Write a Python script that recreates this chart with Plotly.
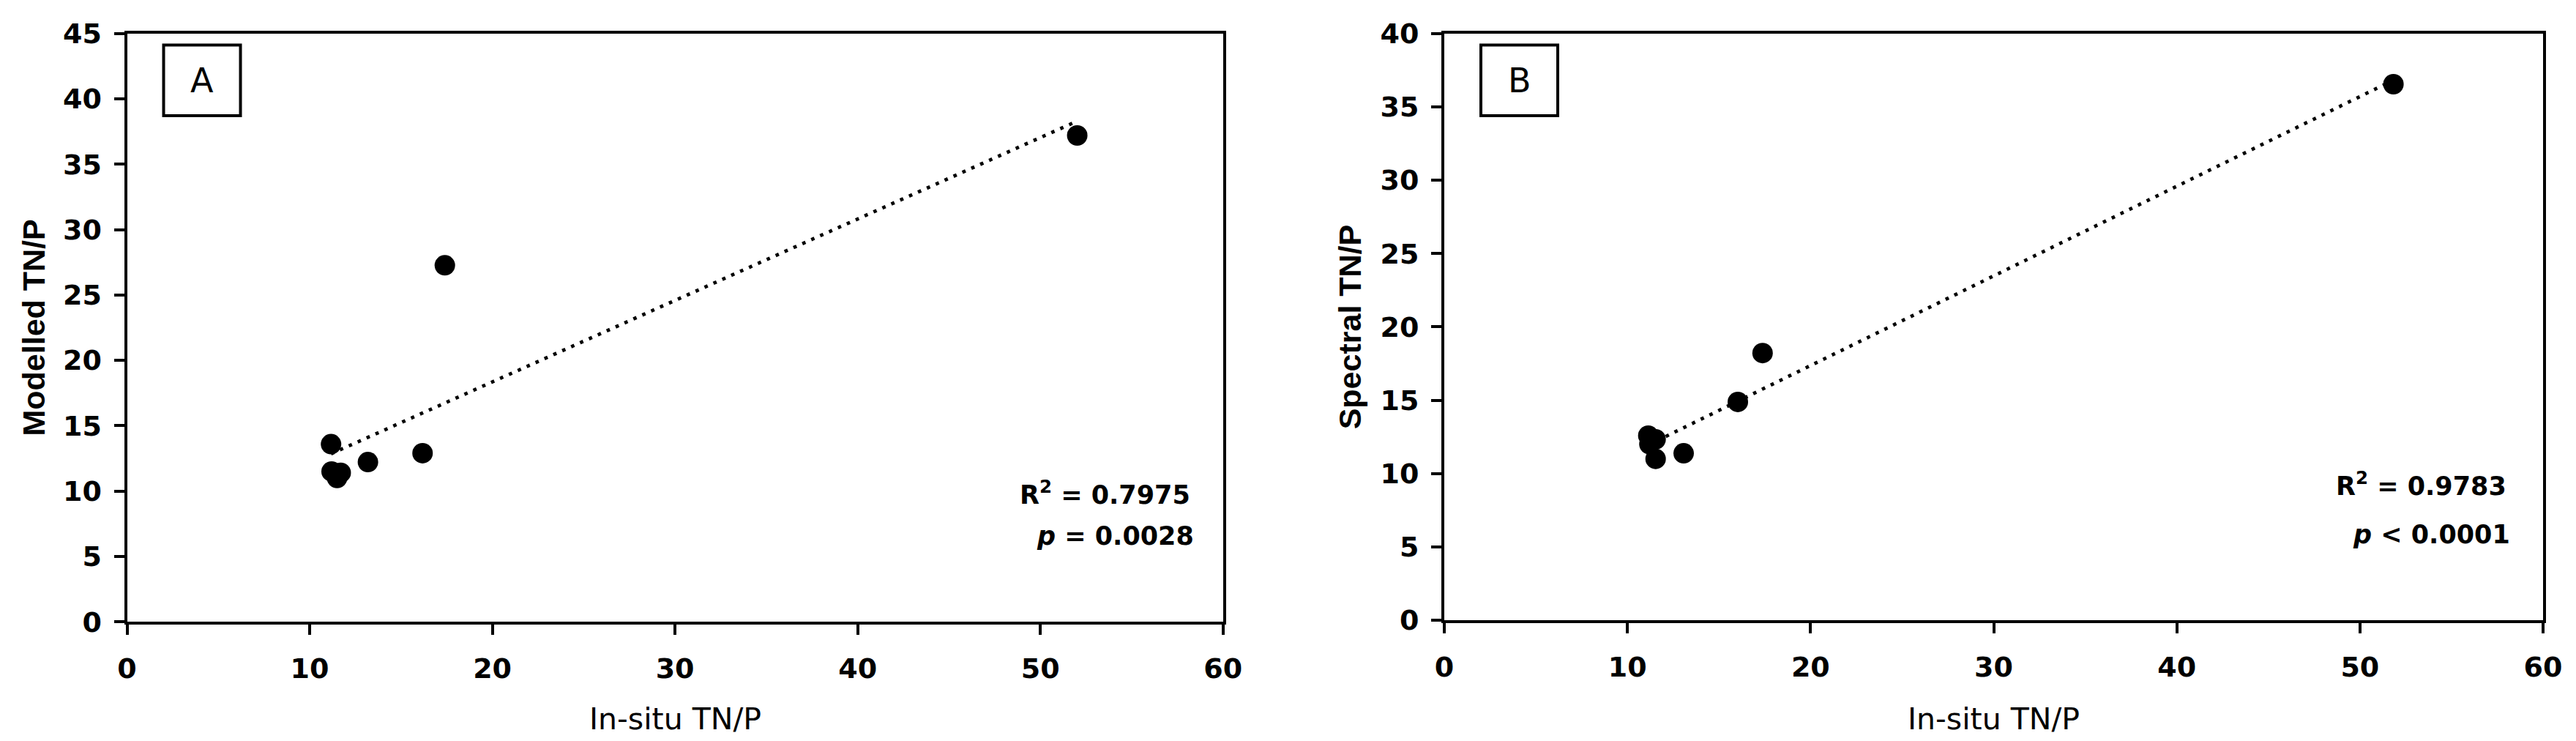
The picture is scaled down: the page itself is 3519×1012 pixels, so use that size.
import numpy as np
import plotly.graph_objects as go

W, H = 3519, 1012

# ---------------- data ----------------
insitu_a = [11.17, 11.2, 11.7, 11.5, 13.19, 16.18, 17.40, 52.02]
modelled = [13.59, 11.5, 11.4, 11.0, 12.22, 12.90, 27.27, 37.20]

insitu_b = [11.14, 11.54, 11.2, 11.54, 13.07, 16.03, 17.38, 51.83]
spectral = [12.58, 12.33, 12.00, 11.00, 11.38, 14.88, 18.21, 36.54]

x_ticks = [0, 10, 20, 30, 40, 50, 60]
y_ticks_a = [0, 5, 10, 15, 20, 25, 30, 35, 40, 45]
y_ticks_b = [0, 5, 10, 15, 20, 25, 30, 35, 40]

stats_a = ["R<sup>2</sup> = 0.7975", "<i>p</i> = 0.0028"]
stats_b = ["R<sup>2</sup> = 0.9783", "<i>p</i> < 0.0001"]
panel_labels = ["A", "B"]
y_titles = ["Modelled TN/P", "Spectral TN/P"]
x_title = "In-situ TN/P"

# ---------------- layout helpers ----------------
def fx(px):
    return px / W

def fy(py):
    return 1 - py / H

BLACK = "black"
TICK_FONT = dict(family="DejaVu Sans", size=38, color=BLACK, weight="bold")

panels = [
    dict(left=173.5, right=1670.7, top=45.7, bottom=849.3),
    dict(left=1973.0, right=3474.0, top=45.7, bottom=847.0),
]

fig = go.Figure()

series = [(insitu_a, modelled), (insitu_b, spectral)]
for i, (xs, ys) in enumerate(series):
    xa = "x" if i == 0 else "x2"
    ya = "y" if i == 0 else "y2"
    xs_arr = np.array(xs)
    ys_arr = np.array(ys)
    slope, intercept = np.polyfit(xs_arr, ys_arr, 1)
    xl = np.array([xs_arr.min(), xs_arr.max()])
    fig.add_trace(go.Scatter(
        x=xl, y=slope * xl + intercept, mode="lines",
        line=dict(color=BLACK, width=4.7, dash="4.7px,8.6px"),
        xaxis=xa, yaxis=ya, showlegend=False, hoverinfo="skip"))
    fig.add_trace(go.Scatter(
        x=xs, y=ys, mode="markers",
        marker=dict(color=BLACK, size=28, line=dict(width=0)),
        xaxis=xa, yaxis=ya, showlegend=False, cliponaxis=False))

axis_common = dict(
    showline=True, linecolor=BLACK, linewidth=4, mirror=True,
    ticks="outside", ticklen=14, tickwidth=4, tickcolor=BLACK,
    showgrid=False, zeroline=False, tickfont=TICK_FONT, automargin=False,
)

layout = dict(
    template="none",
    width=W, height=H, paper_bgcolor="white", plot_bgcolor="white",
    margin=dict(l=0, r=0, t=0, b=0, pad=0), showlegend=False,
)
for i, p in enumerate(panels):
    sx = "" if i == 0 else "2"
    yt = y_ticks_a if i == 0 else y_ticks_b
    layout["xaxis" + sx] = dict(
        axis_common, domain=[fx(p["left"]), fx(p["right"])],
        range=[0, 60], tickvals=x_ticks, anchor="y" + sx,
        ticklabelstandoff=13)
    layout["yaxis" + sx] = dict(
        axis_common, domain=[fy(p["bottom"]), fy(p["top"])],
        range=[yt[0], yt[-1]], tickvals=yt, anchor="x" + sx,
        ticklabelstandoff=9)
fig.update_layout(**layout)

annotations = []
shapes = []
stats = [stats_a, stats_b]
stat_pos = [
    [(1628, 673), (1633, 732)],
    [(3426, 661), (3431, 730)],
]
for i, p in enumerate(panels):
    cx = (p["left"] + p["right"]) / 2
    cy = (p["top"] + p["bottom"]) / 2
    # x title
    annotations.append(dict(
        text=x_title, x=fx(cx), y=fy(982), xref="paper", yref="paper",
        xanchor="center", yanchor="middle", showarrow=False,
        font=dict(family="DejaVu Sans", size=41, color=BLACK)))
    # y title
    ytx = 45 if i == 0 else 1844
    annotations.append(dict(
        text=y_titles[i], x=fx(ytx), y=fy(cy), xref="paper", yref="paper",
        xanchor="center", yanchor="middle", showarrow=False, textangle=-90,
        font=dict(family="Liberation Sans", size=43, color=BLACK, weight="bold")))
    # stats
    for txt, (sxp, syp) in zip(stats[i], stat_pos[i]):
        annotations.append(dict(
            text=txt, x=fx(sxp), y=fy(syp), xref="paper", yref="paper",
            xanchor="right", yanchor="middle", showarrow=False,
            font=dict(family="DejaVu Sans", size=35, color=BLACK, weight="bold")))
    # panel label box
    bl = p["left"] + 50
    br = bl + 105
    bt, bb = 61.5, 158
    shapes.append(dict(
        type="rect", xref="paper", yref="paper",
        x0=fx(bl), x1=fx(br), y0=fy(bb), y1=fy(bt),
        line=dict(color=BLACK, width=4), fillcolor="white"))
    annotations.append(dict(
        text=panel_labels[i], x=fx((bl + br) / 2), y=fy((bt + bb) / 2),
        xref="paper", yref="paper", xanchor="center", yanchor="middle",
        showarrow=False, font=dict(family="DejaVu Sans", size=46, color=BLACK)))

fig.update_layout(annotations=annotations, shapes=shapes)
fig.write_html("out.html", config={"displayModeBar": False},
               post_script="document.body.style.margin='0';")
